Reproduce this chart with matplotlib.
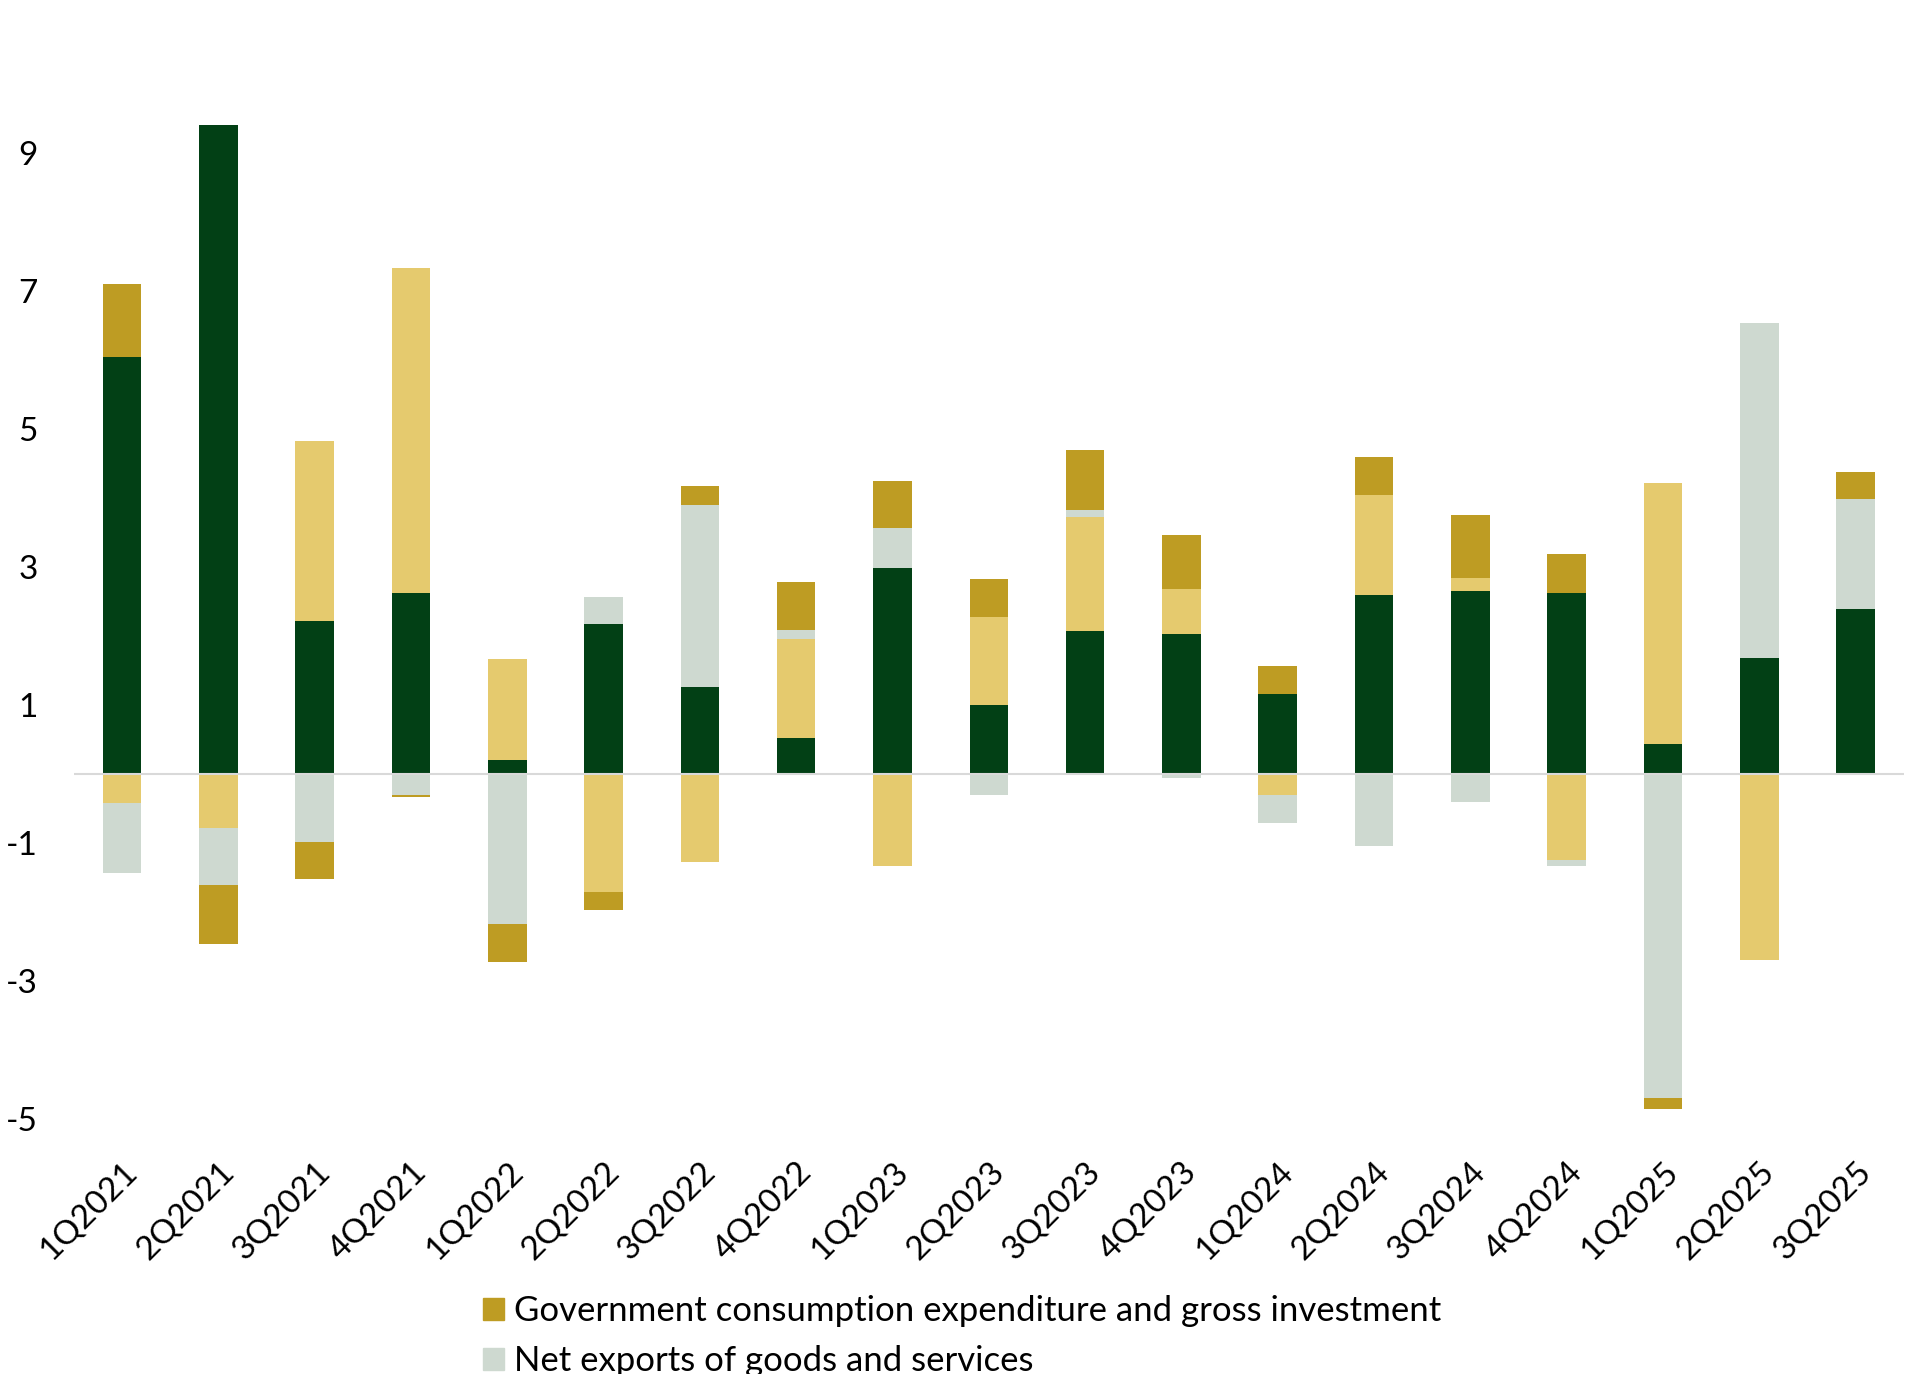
import matplotlib
matplotlib.use("Agg")
import matplotlib.pyplot as plt
import numpy as np
from matplotlib.patches import Patch

plt.rcParams['font.family'] = ['Lato', 'DejaVu Sans']
plt.rcParams['axes.unicode_minus'] = False

# contributions to percent change in real GDP, by quarter
quarters = ['1Q2021', '2Q2021', '3Q2021', '4Q2021', '1Q2022', '2Q2022', '3Q2022',
            '4Q2022', '1Q2023', '2Q2023', '3Q2023', '4Q2023', '1Q2024', '2Q2024',
            '3Q2024', '4Q2024', '1Q2025', '2Q2025', '3Q2025']
consumption = [6.05, 9.41, 2.22, 2.62, 0.20, 2.17, 1.26, 0.52, 2.98, 1.00,
               2.07, 2.03, 1.16, 2.60, 2.65, 2.62, 0.43, 1.68, 2.39]
investment = [-0.42, -0.79, 2.61, 4.71, 1.46, -1.71, -1.27, 1.43, -1.34, 1.28,
              1.65, 0.65, -0.30, 1.44, 0.19, -1.25, 3.79, -2.69, -0.02]
net_exports = [-1.01, -0.82, -0.99, -0.31, -2.17, 0.39, 2.64, 0.14, 0.59, -0.31,
               0.10, -0.06, -0.41, -1.04, -0.41, -0.08, -4.69, 4.85, 1.60]
government = [1.05, -0.86, -0.53, -0.03, -0.55, -0.26, 0.28, 0.69, 0.68, 0.55,
              0.87, 0.79, 0.40, 0.56, 0.92, 0.57, -0.17, 0.0, 0.39]

series = [
    ('Personal consumption expenditures', consumption, '#024015'),
    ('Gross private domestic investment', investment, '#E5CA6E'),
    ('Net exports of goods and services', net_exports, '#CED9D0'),
    ('Government consumption expenditure and gross investment', government, '#BE9C23'),
]

fig = plt.figure(figsize=(19.21, 13.74), dpi=100)
ax = fig.add_axes([0.0385, 0.1856, 0.9525, 0.8035])

x = np.arange(len(quarters))
pos_base = np.zeros(len(quarters))
neg_base = np.zeros(len(quarters))
for name, vals, col in series:
    v = np.array(vals)
    base = np.where(v >= 0, pos_base, neg_base)
    ax.bar(x, v, bottom=base, width=0.40, color=col, linewidth=0, label=name, zorder=2)
    pos_base = pos_base + np.where(v >= 0, v, 0)
    neg_base = neg_base + np.where(v < 0, v, 0)

ax.axhline(0, color='#D9D9D9', lw=1.5, zorder=3)

ax.set_xlim(-0.5, 18.5)
ax.set_ylim(-5, 11)
ax.set_yticks([-5, -3, -1, 1, 3, 5, 7, 9])
ax.tick_params(axis='y', length=0, pad=26, labelsize=24)
ax.tick_params(axis='x', length=0, pad=27, labelsize=24)
ax.set_xticks(x)
ax.set_xticklabels(quarters, rotation=45, ha='right', rotation_mode='anchor')
for s in ax.spines.values():
    s.set_visible(False)

handles = [Patch(color='#BE9C23'), Patch(color='#CED9D0')]
labels = ['Government consumption expenditure and gross investment',
          'Net exports of goods and services']
fig.legend(handles, labels, loc='upper left', bbox_to_anchor=(0.2513, 0.0575),
           frameon=False, fontsize=25, handlelength=0.6, handleheight=0.6,
           handletextpad=0.3, labelspacing=0.52, borderpad=0, borderaxespad=0)

fig.savefig('out.png', dpi=100)
